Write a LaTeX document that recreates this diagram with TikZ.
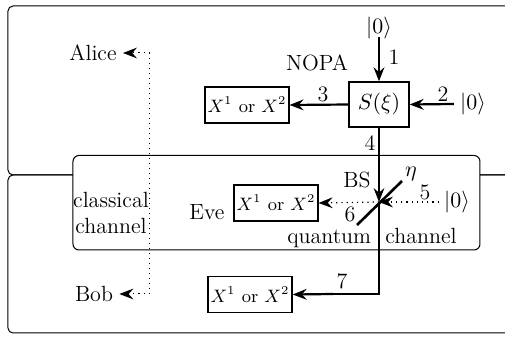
\documentclass[tikz,border=0pt]{standalone}
\usetikzlibrary{arrows.meta}
\begin{document}
\begin{tikzpicture}[x=0.5pt,y=-0.5pt,
  txt/.style={inner sep=0pt,font=\fontsize{11}{13}\selectfont},
  xbox/.style={draw,line width=0.7pt,minimum width=40pt,minimum height=18pt,inner sep=1.2pt,font=\fontsize{9}{11}\selectfont},
  tip/.style={-{Stealth[length=7pt,width=5.4pt,inset=2.4pt]}},
  thickarrow/.style={tip,line width=1.1pt},
  thinline/.style={line width=0.6pt},
  dotarrow/.style={tip,line width=0.6pt,dotted},
  outer/.style={line width=0.5pt,rounded corners=2.5pt},
]
\useasboundingbox (0,0) rectangle (505,337);
\begin{scope}
\clip (0,0) rectangle (505,337);
\draw[outer] (8,6) rectangle (540,175);
\draw[outer] (8,175) rectangle (540,333);
\end{scope}
\draw[line width=0.5pt,rounded corners=3pt,fill=white] (73,155.5) rectangle (480,250);

% NOPA
\node[xbox,minimum width=30pt,minimum height=22.5pt,font=\fontsize{11}{13}\selectfont] (S) at (379,104.5) {$S(\xi)$};
\node[txt] (top0) at (379,28) {$|0\rangle$};
\node[txt] (right0) at (473,104) {$|0\rangle$};
\node[xbox] (A) at (247,105) {$X^1$ or $X^2$};
\node[txt] (nopa) at (317,63) {NOPA};
\draw[thickarrow] (top0.south) ++(0,-2) coordinate (t1) (t1) -- (S.north);
\draw[thickarrow] (right0.west) ++(-6,0) coordinate (r1) (r1) -- (S.east);
\draw[thickarrow] (S.west) -- (A.east);
\node[txt] (l1) at (394,57) {1};
\node[txt] (l2) at (443,94) {2};
\node[txt] (l3) at (323,94) {3};
\node[txt] (l4) at (370,143) {4};

% beam splitter
\coordinate (BS) at (379,202);
\draw[line width=1.3pt] (357,225) -- (402,181);
\node[txt] (eta) at (411,174) {$\eta$};
\node[txt] (bslbl) at (357,180) {BS};
\draw[thinline,tip] (S.south) -- (BS);
\node[txt] (z5) at (457,202) {$|0\rangle$};
\draw[dotarrow] (z5.west) ++(-5,0) coordinate (z5a) (z5a) -- (BS);
\node[txt] (l5) at (425,192) {5};
\node[xbox] (E) at (276,203) {$X^1$ or $X^2$};
\draw[dotarrow] (BS) -- (E.east);
\node[txt] (l6) at (350,214) {6};
\node[txt] (eve) at (207,212) {Eve};
\node[txt] (qc) at (372,238) {quantum\ \ channel};

% Bob
\node[xbox,minimum width=42pt] (B) at (250,294.5) {$X^1$ or $X^2$};
\coordinate (corner) at (379,294);
\coordinate (k7) at (333,294);
\draw[thinline] (BS) -- (corner) -- (k7);
\draw[thickarrow] (k7) -- (B.east);
\node[txt] (l7) at (342,281) {7};

% classical channel
\node[txt] (alice) at (93,53) {Alice};
\node[txt] (bob) at (94,294) {Bob};
\node[txt,align=center] (cc) at (111,213) {classical\\channel};
\coordinate (ca) at (150,53);
\coordinate (cb) at (150,294);
\draw[line width=0.5pt,dotted] (ca) -- (cb);
\draw[dotarrow,line width=0.5pt] (ca) -- ([xshift=3pt]alice.east);
\draw[dotarrow,line width=0.5pt] (cb) -- ([xshift=3pt]bob.east);
\end{tikzpicture}
\end{document}
